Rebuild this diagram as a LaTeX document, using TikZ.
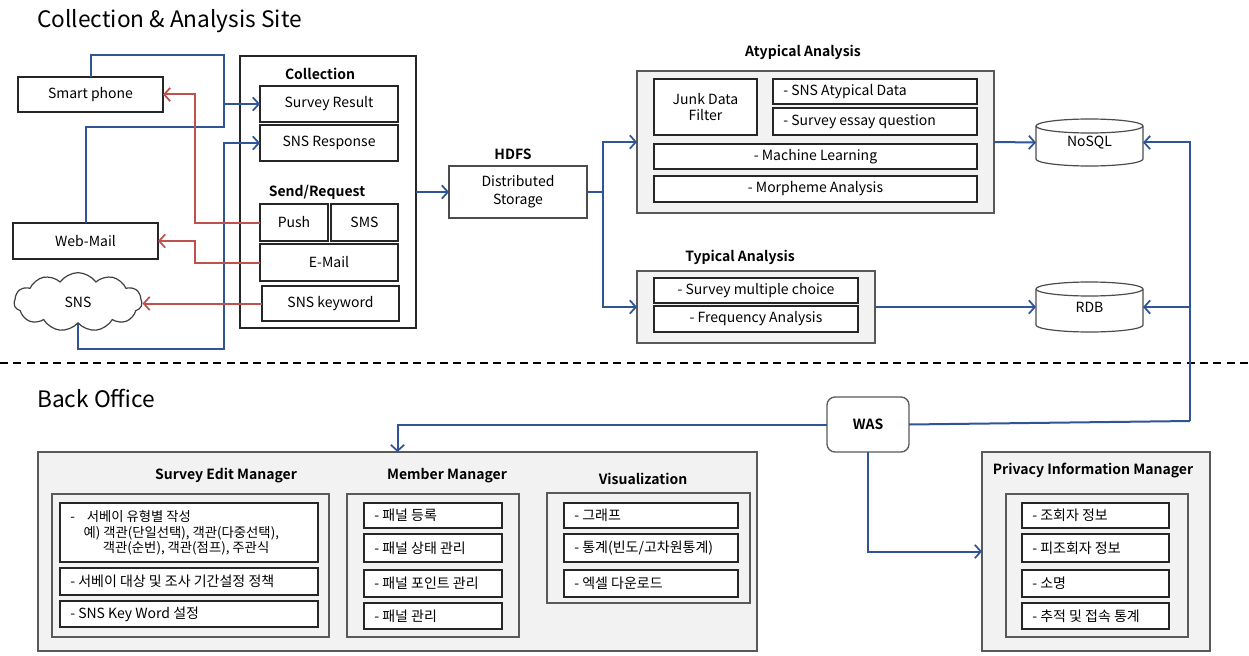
\documentclass[tikz,border=0pt]{standalone}
\usepackage{fontspec}
\setmainfont{Noto Sans CJK KR}[BoldFont={Noto Sans CJK KR Bold}]
\usetikzlibrary{arrows.meta,shapes.symbols,backgrounds}
\definecolor{bl}{RGB}{47,85,151}
\definecolor{rd}{RGB}{192,80,77}
\newcommand\cylbody[1]{%
  \draw[draw=black!70, line width=0.9pt, fill=white]
    ([yshift=-5.25pt]#1.north west) -- ([yshift=5.25pt]#1.south west)
    arc[start angle=180,end angle=360,x radius=40.125pt,y radius=5.25pt]
    -- ([yshift=-5.25pt]#1.north east)
    arc[start angle=0,end angle=180,x radius=40.125pt,y radius=5.25pt] -- cycle;
  \draw[draw=black!70, line width=0.9pt] ([yshift=-5.25pt]#1.north west)
    arc[start angle=180,end angle=360,x radius=40.125pt,y radius=5.25pt];}
\begin{document}
\begin{tikzpicture}[x=0.75pt,y=-0.75pt, font=\fontsize{10.5}{12.5}\selectfont,
  rc/.style args={#1/#2/#3/#4}{at={({(#1+#3)/2},{(#2+#4)/2})},
      minimum width={(#3-#1)*0.75pt}, minimum height={(#4-#2)*0.75pt}},
  box/.style={draw=black!85, line width=0.9pt, fill=white, inner sep=0pt, outer sep=0pt},
  grp/.style={draw=black!65, line width=1pt, fill=black!5, inner sep=0pt, outer sep=0pt},
  plain/.style={draw=black!85, line width=0.9pt, fill=white, inner sep=0pt, outer sep=0pt},
  ttl/.style={font=\fontsize{10.5}{12}\selectfont\bfseries, inner sep=0pt},
  big/.style={font=\fontsize{17}{20}\selectfont, inner sep=0pt, anchor=west},
  lt/.style={label={[anchor=west,inner sep=0pt,xshift=7.5pt]west:#1}},
  bln/.style={draw=bl, line width=1.5pt},
  rdn/.style={draw=rd, line width=1.5pt},
  arr/.style={-{Straight Barb[length=4.5pt,width=10pt,line width=1.3pt]}},
]
\useasboundingbox (0,0) rectangle (1249,656);

% titles
\node[big] (t1) at (37,21) {Collection \& Analysis Site};
\node[big] (t2) at (37,398) {Back Office};
\draw[line width=1.5pt, dash pattern=on 6pt off 4pt] (0,363) -- (1249,363);

% devices
\node[plain, rc=18/77/163/112] (sp) {Smart phone};
\node[plain, rc=13/223/158/259] (wm) {Web-Mail};
\node[cloud, cloud puffs=11, cloud puff arc=110, cloud ignores aspect, draw=black!75,
      line width=0.9pt, fill=white, minimum width=96pt, minimum height=44pt, inner sep=0pt] (sns) at (78,302) {SNS};

% collection
\node[plain, rc=240/56/416/328] (col) {};
\node[ttl] (colt) at (320,74) {Collection};
\node[box, rc=260/86/398/122] (sr) {Survey Result};
\node[box, rc=260/125/398/161] (srsp) {SNS Response};
\node[ttl] (sendt) at (317,192) {Send/Request};
\node[box, rc=260/204/328/241] (push) {Push};
\node[box, rc=331/204/398/241] (sms) {SMS};
\node[box, rc=260/244/398/281] (em) {E-Mail};
\node[box, rc=262/286/399/321] (kw) {SNS keyword};

% HDFS
\node[ttl] (hdfst) at (513,154) {HDFS};
\node[plain, draw=black!70, rc=449/166/587/218, align=center, font=\fontsize{10.5}{13.5}\selectfont] (hdfs) {Distributed\\Storage};

% atypical
\node[ttl] (atyt) at (803,52) {Atypical Analysis};
\node[grp, rc=637/71/994/213] (atyp) {};
\node[box, rc=654/79/757/135, align=center, font=\fontsize{10.5}{12.5}\selectfont] (junk) {Junk Data\\Filter};
\node[box, lt={- SNS Atypical Data}, rc=773/79/977/104] (sad) {};
\node[box, lt={- Survey essay question}, rc=773/108/977/135] (seq) {};
\node[box, rc=654/144/977/169] (ml) {- Machine Learning};
\node[box, rc=654/176/977/202] (ma) {- Morpheme Analysis};

% typical
\node[ttl] (typt) at (740,257) {Typical Analysis};
\node[grp, rc=637/271/875/343] (typ) {};
\node[box, rc=654/278/858/303] (smc) {- Survey multiple choice};
\node[box, rc=654/306/858/332] (fa) {- Frequency Analysis};

% databases
\node[inner sep=0pt, outer sep=0pt, rc=1036/119/1143/166] (nosql) {\raisebox{-4pt}{NoSQL}};
\node[inner sep=0pt, outer sep=0pt, rc=1036/282/1143/332] (rdb) {\raisebox{-4pt}{RDB}};
\begin{scope}[on background layer]
\cylbody{nosql}
\cylbody{rdb}
\end{scope}

% WAS
\node[draw=black!65, line width=1pt, fill=white, rounded corners=6pt, inner sep=0pt, outer sep=0pt,
      rc=827/397/909/452, font=\fontsize{10.5}{12}\selectfont\bfseries] (was) {WAS};

% back office
\node[grp, rc=38/452/757/651] (bo) {};
\node[ttl] (semt) at (226,476) {Survey Edit Manager};
\node[ttl] (mmt) at (447,476) {Member Manager};
\node[ttl] (vist) at (643,479) {Visualization};

\node[grp, rc=52/494/329/637] (seg) {};
\node[box, rc=60/503/318/562] (se1) {};
\node[anchor=west, align=left, inner sep=0pt, font=\fontsize{10}{11.6}\selectfont] (se1t) at (70,533)
  {-\hspace{9pt}서베이 유형별 작성\\\hspace{10pt}예) 객관(단일선택), 객관(다중선택),\\\hspace{24.5pt}객관(순번), 객관(점프), 주관식};
\node[box, lt={- 서베이 대상 및 조사 기간설정 정책}, rc=60/568/318/595] (se2) {};
\node[box, lt={- SNS Key Word 설정}, rc=60/601/318/627] (se3) {};

\node[grp, rc=347/494/519/637] (mmg) {};
\node[box, lt={- 패널 등록}, rc=364/503/502/528] (mm1) {};
\node[box, lt={- 패널 상태 관리}, rc=364/534/502/562] (mm2) {};
\node[box, lt={- 패널 포인트 관리}, rc=364/570/502/597] (mm3) {};
\node[box, lt={- 패널 관리}, rc=364/603/502/629] (mm4) {};

\node[grp, rc=547/493/750/603] (visg) {};
\node[box, lt={- 그래프}, rc=564/503/738/528] (vi1) {};
\node[box, lt={- 통계(빈도/고차원통계)}, rc=564/534/738/562] (vi2) {};
\node[box, lt={- 엑셀 다운로드}, rc=564/570/738/597] (vi3) {};

\node[grp, rc=982/452/1210/651] (pim) {};
\node[ttl] (pimt) at (1093,471) {Privacy Information Manager};
\node[grp, rc=1006/494/1188/637] (pig) {};
\node[box, lt={- 조회자 정보}, rc=1022/503/1169/528] (pi1) {};
\node[box, lt={- 피조회자 정보}, rc=1022/534/1169/562] (pi2) {};
\node[box, lt={- 소명}, rc=1022/570/1169/597] (pi3) {};
\node[box, lt={- 추적 및 접속 통계}, rc=1022/603/1169/629] (pi4) {};

% blue connectors
\coordinate (bt) at (224,55);
\coordinate (bm) at (224,127);
\coordinate (bb) at (224,349);
\draw[bln] (sp.north) |- (bt) -- (bm) -| (wm.north);
\draw[bln, arr] (bt |- sr.west) -- (sr.west);
\draw[bln, arr] (sns.south) |- (bb) |- (srsp.west);
\draw[bln, arr] (col.east) -- (hdfs.west);
\coordinate (hx) at (603,192);
\draw[bln, arr] (hdfs.east) -- (hx) |- (atyp.west);
\draw[bln, arr] (hx) |- (typ.west);
\draw[bln, arr] (atyp.east) -- (nosql.west);
\draw[bln, arr] (typ.east) -- (typ.east -| rdb.west);
\coordinate (rv) at (1190,421);
\draw[bln, arr] (rv) |- (nosql.east);
\draw[bln, arr] (rv |- rdb.east) -- (rdb.east);
\draw[bln] (rv) -- (was.east);
\draw[bln, arr] (was.west) -| (bo.north);
\draw[bln, arr] (was.south) |- (pim.west);

% red connectors
\coordinate (rx) at (195,150);
\draw[rdn, arr] (push.west) -| (rx |- sp.east) -- (sp.east);
\draw[rdn, arr] (em.west) -| (rx |- wm.east) -- (wm.east);
\draw[rdn, arr] (kw.west) -- (kw.west -| sns.east);
\end{tikzpicture}
\end{document}
